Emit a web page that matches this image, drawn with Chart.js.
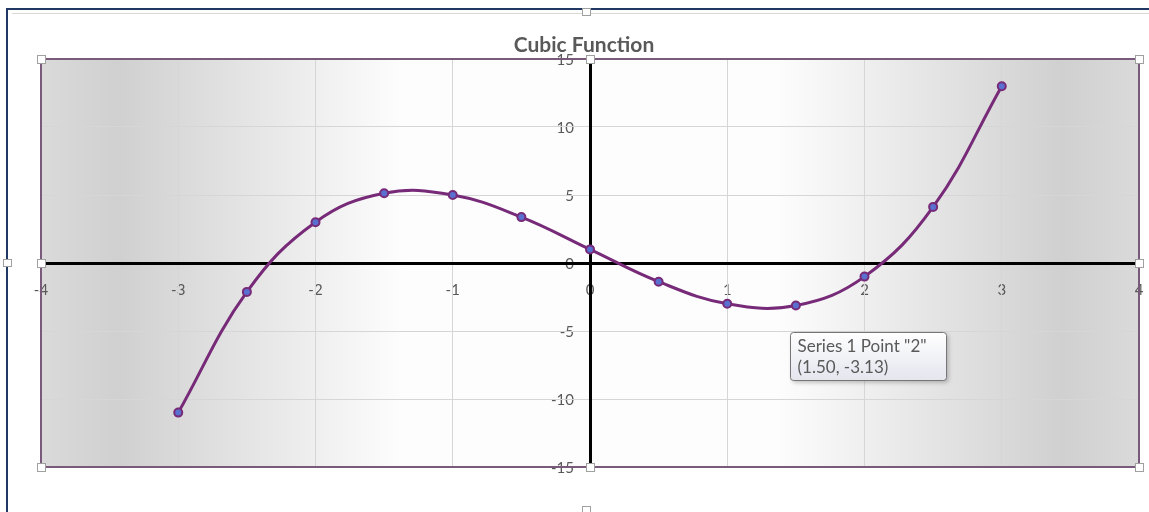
<!DOCTYPE html>
<html>
<head>
<meta charset="utf-8">
<script src="https://cdn.jsdelivr.net/npm/chart.js@4/dist/chart.umd.min.js"></script>
<style>
  body { margin: 0; background: #fff; }
  #wrap { position: relative; width: 1149px; height: 512px; }
  #frame { position: absolute; left: 6px; top: 8px; right: 0; bottom: 0;
           border-left: 2px solid #1f3864; border-top: 2px solid #1f3864; }
  #frame2 { position: absolute; left: 12px; top: 13px; right: 0; border-top: 1px solid #d8d8d8; }
  canvas { position: absolute; left: 0; top: 0; }
</style>
</head>
<body>
<div id="wrap">
  <div id="frame"></div>
  <div id="frame2"></div>
  <canvas id="grafica" width="1149" height="512"></canvas>
</div>
<script>
const valoresX = [-3, -2.5, -2, -1.5, -1, -0.5, 0, 0.5, 1, 1.5, 2, 2.5, 3];
const valoresY = [-11, -2.125, 3, 5.125, 5, 3.375, 1, -1.375, -3, -3.125, -1, 4.125, 13];
const titulo = 'Cubic Function';
const nombreSerie = 'Series 1';
const puntoTooltip = 9; // punto (1.50, -3.13)

const fuente = 'Lato, "Open Sans", sans-serif';
const gris = '#595959';

// fondo con degradado, etiquetas de los ejes y marco del area de trazado
const fondoPlugin = {
    id: 'fondo',
    beforeDraw(chart) {
        const { ctx, chartArea: a, scales } = chart;
        const g = ctx.createLinearGradient(a.left, 0, a.right, 0);
        g.addColorStop(0, '#dadada');
        g.addColorStop(0.07, '#d0d0d0');
        g.addColorStop(0.33, '#fdfdfd');
        g.addColorStop(0.67, '#fdfdfd');
        g.addColorStop(0.93, '#d0d0d0');
        g.addColorStop(1, '#dadada');
        ctx.save();
        ctx.fillStyle = g;
        ctx.fillRect(a.left, a.top, a.right - a.left, a.bottom - a.top);

        // etiquetas junto a los ejes (debajo de las lineas)
        const x0 = scales.x.getPixelForValue(0);
        const y0 = scales.y.getPixelForValue(0);
        ctx.fillStyle = gris;
        ctx.font = '15px ' + fuente;
        ctx.textAlign = 'center';
        ctx.textBaseline = 'middle';
        scales.x.ticks.forEach(t => {
            ctx.fillText(String(t.value), scales.x.getPixelForValue(t.value), y0 + 27);
        });
        ctx.textAlign = 'right';
        scales.y.ticks.forEach(t => {
            ctx.fillText(String(t.value), x0 - 16, scales.y.getPixelForValue(t.value) + 1);
        });
        ctx.restore();
    },
    afterDraw(chart) {
        const { ctx, chartArea: a } = chart;
        ctx.save();
        ctx.strokeStyle = '#7a5a7a';
        ctx.lineWidth = 2;
        ctx.strokeRect(a.left, a.top, a.right - a.left, a.bottom - a.top);

        // titulo
        ctx.fillStyle = gris;
        ctx.font = 'bold 21px ' + fuente;
        ctx.textAlign = 'center';
        ctx.textBaseline = 'alphabetic';
        ctx.fillText(titulo, (a.left + a.right) / 2 - 6, 52);

        // asas de seleccion
        const cx = (a.left + a.right) / 2;
        const cy = (a.top + a.bottom) / 2;
        const asas = [
            [a.left, a.top], [cx, a.top], [a.right, a.top],
            [a.left, cy], [a.right, cy],
            [a.left, a.bottom], [cx, a.bottom], [a.right, a.bottom]
        ];
        ctx.lineWidth = 1;
        ctx.strokeStyle = '#a0a0a0';
        ctx.fillStyle = '#ffffff';
        asas.forEach(([x, y]) => {
            ctx.fillRect(x - 4, y - 4, 8, 8);
            ctx.strokeRect(x - 3.5, y - 3.5, 8, 8);
        });
        [[cx - 4, 12], [7, cy], [cx - 4, 510]].forEach(([x, y]) => {
            ctx.fillRect(x - 4, y - 3, 8, 7);
            ctx.strokeRect(x - 3.5, y - 3.5, 8, 7);
        });

        // tooltip estilo Excel
        const p = chart.getDatasetMeta(0).data[puntoTooltip];
        const tx = Math.round(p.x) - 5.5, ty = Math.round(p.y) + 26.5;
        const w = 156, h = 48;
        ctx.shadowColor = 'rgba(0,0,0,0.25)';
        ctx.shadowBlur = 4;
        ctx.shadowOffsetX = 2;
        ctx.shadowOffsetY = 2;
        const gt = ctx.createLinearGradient(0, ty, 0, ty + h);
        gt.addColorStop(0, '#ffffff');
        gt.addColorStop(1, '#e4e5ee');
        ctx.fillStyle = gt;
        ctx.beginPath();
        ctx.roundRect(tx, ty, w, h, 3);
        ctx.fill();
        ctx.shadowColor = 'transparent';
        ctx.strokeStyle = '#767676';
        ctx.stroke();
        ctx.fillStyle = gris;
        ctx.font = '17px ' + fuente;
        ctx.textAlign = 'left';
        ctx.textBaseline = 'middle';
        ctx.fillText(nombreSerie + ' Point "' + valoresX[puntoTooltip + 1] + '"', tx + 7, ty + 14);
        ctx.fillText('(' + valoresX[puntoTooltip].toFixed(2) + ', ' + valoresY[puntoTooltip].toFixed(2) + ')', tx + 7, ty + 35);
        ctx.restore();
    }
};

const ctx = document.getElementById('grafica').getContext('2d');
new Chart(ctx, {
    type: 'scatter',
    data: {
        datasets: [{
            label: nombreSerie,
            data: valoresX.map((x, i) => ({ x: x, y: valoresY[i] })),
            showLine: true,
            borderColor: '#772a78',
            borderWidth: 3,
            tension: 0.4,
            pointRadius: 4,
            pointBorderWidth: 2,
            pointBackgroundColor: '#5a70d0',
            pointBorderColor: '#772a78'
        }]
    },
    options: {
        responsive: false,
        animation: false,
        layout: { autoPadding: false, padding: { left: 41, right: 10, top: 59, bottom: 45 } },
        plugins: {
            legend: { display: false },
            title: { display: false },
            tooltip: { enabled: false }
        },
        scales: {
            x: {
                type: 'linear',
                position: { y: 0 },
                min: -4,
                max: 4,
                grid: { color: '#d6d6d6', lineWidth: 1, drawTicks: false },
                border: { color: '#000000', width: 3 },
                ticks: { stepSize: 1, autoSkip: false, display: false }
            },
            y: {
                type: 'linear',
                position: { x: 0 },
                min: -15,
                max: 15,
                grid: { color: '#d6d6d6', lineWidth: 1, drawTicks: false },
                border: { color: '#000000', width: 3 },
                ticks: { stepSize: 5, display: false }
            }
        }
    },
    plugins: [fondoPlugin]
});
</script>
</body>
</html>
